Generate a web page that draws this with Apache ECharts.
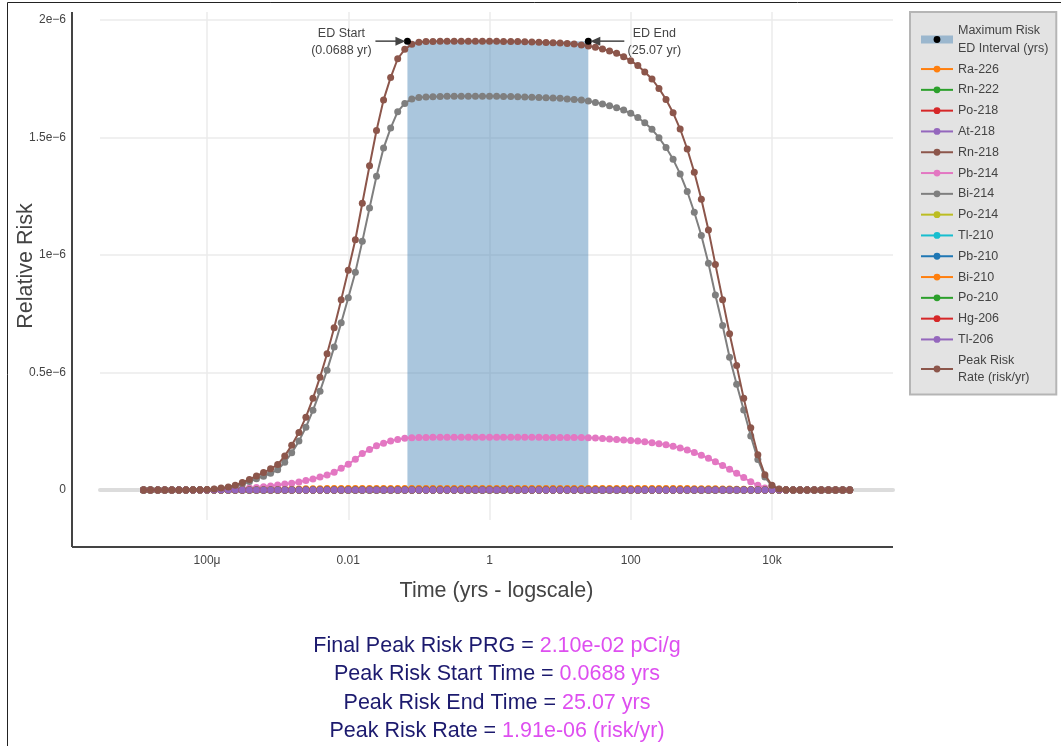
<!DOCTYPE html>
<html>
<head>
<meta charset="utf-8">
<title>Relative Risk</title>
<script src="https://cdn.jsdelivr.net/npm/echarts@6/dist/echarts.min.js"></script>
<style>
  html, body { margin: 0; padding: 0; background: #fff; }
  #chart { width: 1061px; height: 746px; }
</style>
</head>
<body>
<div id="chart"></div>
<script>
// time grid (years), 10 points per decade
const timeYrs = [
  1.26e-5, 1.58e-5, 2.00e-5, 2.51e-5, 3.16e-5, 3.98e-5, 5.01e-5, 6.31e-5, 7.94e-5, 1.00e-4,
  1.26e-4, 1.58e-4, 2.00e-4, 2.51e-4, 3.16e-4, 3.98e-4, 5.01e-4, 6.31e-4, 7.94e-4, 1.00e-3,
  1.26e-3, 1.58e-3, 2.00e-3, 2.51e-3, 3.16e-3, 3.98e-3, 5.01e-3, 6.31e-3, 7.94e-3, 1.00e-2,
  1.26e-2, 1.58e-2, 2.00e-2, 2.51e-2, 3.16e-2, 3.98e-2, 5.01e-2, 6.31e-2, 7.94e-2, 1.00e-1,
  1.26e-1, 1.58e-1, 2.00e-1, 2.51e-1, 3.16e-1, 3.98e-1, 5.01e-1, 6.31e-1, 7.94e-1, 1.00,
  1.26, 1.58, 2.00, 2.51, 3.16, 3.98, 5.01, 6.31, 7.94, 10.0,
  12.6, 15.8, 20.0, 25.1, 31.6, 39.8, 50.1, 63.1, 79.4, 100,
  126, 158, 200, 251, 316, 398, 501, 631, 794, 1000,
  1260, 1580, 2000, 2510, 3160, 3980, 5010, 6310, 7940, 10000,
  12600, 15800, 20000, 25100, 31600, 39800, 50100, 63100, 79400, 100000,
  126000
];

// risk values in units of 1e-6
const peakRisk = [
  0, 0, 0, 0, 0, 0, 0, 0.001, 0.001, 0.002,
  0.004, 0.008, 0.013, 0.02, 0.032, 0.045, 0.06, 0.074, 0.09, 0.108,
  0.145, 0.19, 0.245, 0.31, 0.39, 0.48, 0.58, 0.69, 0.81, 0.935,
  1.065, 1.22, 1.38, 1.53, 1.66, 1.755, 1.835, 1.875, 1.897, 1.905,
  1.908, 1.909, 1.91, 1.91, 1.91, 1.91, 1.91, 1.91, 1.91, 1.91,
  1.91, 1.909, 1.909, 1.908, 1.907, 1.906, 1.905, 1.904, 1.903, 1.902,
  1.9, 1.898, 1.894, 1.889, 1.884, 1.877, 1.868, 1.858, 1.844, 1.827,
  1.806, 1.779, 1.749, 1.709, 1.662, 1.605, 1.536, 1.451, 1.352, 1.237,
  1.106, 0.96, 0.81, 0.665, 0.53, 0.39, 0.265, 0.15, 0.065, 0.02,
  0.004, 0.001, 0, 0, 0, 0, 0, 0, 0, 0,
  0
];

const bi214Risk = [
  0, 0, 0, 0, 0, 0, 0, 0.001, 0.001, 0.001,
  0.003, 0.006, 0.01, 0.016, 0.025, 0.036, 0.048, 0.058, 0.071, 0.086,
  0.118, 0.158, 0.208, 0.267, 0.339, 0.42, 0.51, 0.608, 0.712, 0.818,
  0.927, 1.058, 1.2, 1.335, 1.455, 1.54, 1.61, 1.645, 1.664, 1.67,
  1.672, 1.673, 1.674, 1.675, 1.675, 1.675, 1.675, 1.675, 1.675, 1.675,
  1.675, 1.674, 1.674, 1.673, 1.672, 1.671, 1.67, 1.669, 1.668, 1.667,
  1.664, 1.662, 1.66, 1.655, 1.649, 1.643, 1.635, 1.627, 1.617, 1.603,
  1.585, 1.563, 1.535, 1.499, 1.457, 1.407, 1.345, 1.27, 1.182, 1.083,
  0.965, 0.83, 0.7, 0.565, 0.45, 0.34, 0.23, 0.13, 0.055, 0.016,
  0.003, 0.001, 0, 0, 0, 0, 0, 0, 0, 0,
  0
];

const pb214Risk = [
  0, 0, 0, 0, 0, 0, 0, 0, 0, 0,
  0.001, 0.002, 0.003, 0.004, 0.006, 0.008, 0.011, 0.014, 0.017, 0.021,
  0.025, 0.029, 0.034, 0.04, 0.047, 0.055, 0.064, 0.076, 0.092, 0.11,
  0.131, 0.155, 0.172, 0.188, 0.199, 0.208, 0.215, 0.22, 0.222, 0.223,
  0.223, 0.224, 0.224, 0.224, 0.224, 0.224, 0.224, 0.224, 0.224, 0.224,
  0.224, 0.224, 0.224, 0.224, 0.224, 0.224, 0.224, 0.223, 0.223, 0.223,
  0.223, 0.223, 0.223, 0.222, 0.221, 0.219, 0.217, 0.215, 0.213, 0.211,
  0.208, 0.205, 0.201, 0.197, 0.192, 0.186, 0.179, 0.17, 0.16, 0.148,
  0.135, 0.12, 0.104, 0.088, 0.071, 0.053, 0.035, 0.02, 0.009, 0.003,
  0.001, 0, 0, 0, 0, 0, 0, 0, 0, 0,
  0
];

const ra226Risk = [
  0, 0, 0, 0, 0, 0, 0, 0, 0, 0,
  0, 0, 0, 0, 0.001, 0.001, 0.001, 0.002, 0.002, 0.003,
  0.003, 0.004, 0.004, 0.005, 0.005, 0.005, 0.006, 0.006, 0.006, 0.006,
  0.006, 0.006, 0.006, 0.006, 0.006, 0.006, 0.006, 0.006, 0.006, 0.006,
  0.006, 0.006, 0.006, 0.006, 0.006, 0.006, 0.006, 0.006, 0.006, 0.006,
  0.006, 0.006, 0.006, 0.006, 0.006, 0.006, 0.006, 0.006, 0.006, 0.006,
  0.006, 0.006, 0.006, 0.006, 0.006, 0.006, 0.006, 0.006, 0.006, 0.006,
  0.006, 0.006, 0.006, 0.006, 0.006, 0.006, 0.006, 0.006, 0.005, 0.005,
  0.005, 0.005, 0.004, 0.004, 0.003, 0.003, 0.002, 0.002, 0.001, 0.001,
  0, 0, 0, 0, 0, 0, 0, 0, 0, 0,
  0
];

// nuclides whose contribution stays at zero on this scale
const traceRisk = [
  0, 0, 0, 0, 0, 0, 0, 0, 0, 0,
  0, 0, 0, 0, 0, 0, 0, 0, 0, 0,
  0, 0, 0, 0, 0, 0, 0, 0, 0, 0,
  0, 0, 0, 0, 0, 0, 0, 0, 0, 0,
  0, 0, 0, 0, 0, 0, 0, 0, 0, 0,
  0, 0, 0, 0, 0, 0, 0, 0, 0, 0,
  0, 0, 0, 0, 0, 0, 0, 0, 0, 0,
  0, 0, 0, 0, 0, 0, 0, 0, 0, 0,
  0, 0, 0, 0, 0, 0, 0, 0, 0, 0,
  0, 0, 0, 0, 0, 0, 0, 0, 0, 0,
  0
];

const nuclides = ['Ra-226', 'Rn-222', 'Po-218', 'At-218', 'Rn-218', 'Pb-214', 'Bi-214',
  'Po-214', 'Tl-210', 'Pb-210', 'Bi-210', 'Po-210', 'Hg-206', 'Tl-206'];
const nuclideRisk = [ra226Risk, traceRisk, traceRisk, traceRisk, traceRisk, pb214Risk, bi214Risk,
  traceRisk, traceRisk, traceRisk, traceRisk, traceRisk, traceRisk, traceRisk];
const nuclideColors = ['#ff7f0e', '#2ca02c', '#d62728', '#9467bd', '#8c564b', '#e377c2', '#7f7f7f',
  '#bcbd22', '#17becf', '#1f77b4', '#ff7f0e', '#2ca02c', '#d62728', '#9467bd'];

const edStart = 0.0688
const edEnd = 25.07
const peakRate = 1.91

const xTickTimes = [1e-4, 0.01, 1, 100, 1e4]
const xTickLabels = ['100μ', '0.01', '1', '100', '10k']
const yTickValues = [0, 0.5, 1, 1.5, 2]
const yTickLabels = ['0', '0.5e−6', '1e−6', '1.5e−6', '2e−6']

const summaryLines = [
  ['Final Peak Risk PRG = ', '2.10e-02 pCi/g'],
  ['Peak Risk Start Time = ', '0.0688 yrs'],
  ['Peak Risk End Time = ', '25.07 yrs'],
  ['Peak Risk Rate = ', '1.91e-06 (risk/yr)']
]

const INTERVAL_NAME = 'Maximum Risk\nED Interval (yrs)'
const PEAK_NAME = 'Peak Risk\nRate (risk/yr)'
const FONT = '"Liberation Sans", Arial, sans-serif'
const TEXT_COLOR = '#444'
const X_MIN = -5.516, X_MAX = 5.714
const Y_MIN = -0.1277, Y_MAX = 2.034
// axis lines sit a little outside the plotting area
const Y_AXIS_SHIFT = 28
const X_AXIS_SHIFT = 27

const chart = echarts.init(document.getElementById('chart'), null, { renderer: 'canvas' })

function toPoints(values) {
  return timeYrs.map((t, i) => [Math.log10(t), values[i]])
}

const xTickLogs = xTickTimes.map(t => Math.log10(t))

const lineSeries = nuclides.map((name, i) => ({
  name,
  type: 'line',
  data: toPoints(nuclideRisk[i]),
  symbol: 'circle',
  symbolSize: 7,
  color: nuclideColors[i],
  lineStyle: { width: 2 },
  z: 2
}))

const option = {
  animation: false,
  textStyle: { fontFamily: FONT },
  grid: { left: 100, right: 168, top: 12, bottom: 226, outerBoundsMode: 'none', containLabel: false },
  legend: {
    orient: 'vertical',
    left: 910,
    top: 12,
    padding: [10, 8, 8, 7],
    backgroundColor: '#e3e3e3',
    borderColor: '#b5b5b5',
    borderWidth: 2,
    itemWidth: 32,
    itemHeight: 8.5,
    itemGap: 3.3,
    textStyle: { fontSize: 12.5, lineHeight: 17.5, color: TEXT_COLOR, fontFamily: FONT },
    data: [
      {
        name: INTERVAL_NAME,
        lineStyle: { color: 'rgba(70,130,180,0.46)', width: 8, opacity: 1 },
        itemStyle: { color: '#000' }
      },
      ...nuclides,
      PEAK_NAME
    ]
  },
  xAxis: [
    {
      type: 'value',
      min: X_MIN,
      max: X_MAX,
      offset: X_AXIS_SHIFT,
      name: 'Time (yrs - logscale)',
      nameLocation: 'middle',
      nameGap: 33,
      nameMoveOverlap: false,
      nameTextStyle: { fontSize: 21.5, color: TEXT_COLOR, padding: [0, 0, 0, 0] },
      axisLine: { show: false, onZero: false },
      axisTick: { show: false, customValues: xTickLogs },
      axisLabel: {
        customValues: xTickLogs,
        margin: 8,
        fontSize: 12,
        color: TEXT_COLOR,
        formatter: v => {
          const i = xTickLogs.findIndex(t => Math.abs(t - v) < 1e-9)
          return i < 0 ? '' : xTickLabels[i]
        }
      },
      splitLine: { show: true, lineStyle: { color: '#ebebeb', width: 1.5 } }
    },
    {
      // zero line
      type: 'value',
      min: X_MIN,
      max: X_MAX,
      axisLine: { onZero: true, lineStyle: { color: '#dcdcdc', width: 4 } },
      axisTick: { show: false },
      axisLabel: { show: false },
      splitLine: { show: false }
    }
  ],
  yAxis: {
    type: 'value',
    min: Y_MIN,
    max: Y_MAX,
    offset: Y_AXIS_SHIFT,
    name: 'Relative Risk',
    nameLocation: 'middle',
    nameGap: 35,
    nameRotate: 90,
    nameMoveOverlap: false,
    nameTextStyle: { fontSize: 21.5, color: TEXT_COLOR, padding: [0, 0, 0, 0] },
    axisLine: { show: false, onZero: false },
    axisTick: { show: false, customValues: yTickValues },
    axisLabel: {
      customValues: yTickValues,
      margin: 6,
      fontSize: 12,
      color: TEXT_COLOR,
      formatter: v => {
        const i = yTickValues.findIndex(t => Math.abs(t - v) < 1e-9)
        return i < 0 ? '' : yTickLabels[i]
      }
    },
    splitLine: { show: true, lineStyle: { color: '#ebebeb', width: 1.5 } }
  },
  series: [
    {
      name: INTERVAL_NAME,
      type: 'line',
      data: [[Math.log10(edStart), peakRate], [Math.log10(edEnd), peakRate]],
      symbol: 'circle',
      symbolSize: 7,
      itemStyle: { color: '#000' },
      lineStyle: { opacity: 0 },
      z: 4,
      markArea: {
        silent: true,
        itemStyle: { color: 'rgba(70,130,180,0.46)' },
        data: [[
          { xAxis: Math.log10(edStart), yAxis: 0 },
          { xAxis: Math.log10(edEnd), yAxis: peakRate }
        ]]
      }
    },
    ...lineSeries,
    {
      name: PEAK_NAME,
      type: 'line',
      data: toPoints(peakRisk),
      symbol: 'circle',
      symbolSize: 7,
      color: '#8c564b',
      lineStyle: { width: 2 },
      z: 3
    }
  ]
}

chart.setOption(option)

// axis lines, annotations, summary text and page frame
function drawOverlay() {
  const [left, bottom] = chart.convertToPixel({ seriesIndex: 0 }, [X_MIN, Y_MIN])
  const [right, top] = chart.convertToPixel({ seriesIndex: 0 }, [X_MAX, Y_MAX])
  const axisX = Math.round(left - Y_AXIS_SHIFT)
  const axisY = Math.round(bottom + X_AXIS_SHIFT)
  const axisStyle = { stroke: '#444', lineWidth: 2 }

  const [sx, sy] = chart.convertToPixel({ seriesIndex: 0 }, [Math.log10(edStart), peakRate])
  const [ex, ey] = chart.convertToPixel({ seriesIndex: 0 }, [Math.log10(edEnd), peakRate])
  const arrowStyle = { stroke: '#444', lineWidth: 1.5 }
  const noteStyle = { fill: TEXT_COLOR, fontSize: 12.5, lineHeight: 16.5, fontFamily: FONT, align: 'center', verticalAlign: 'middle' }

  const graphics = [
    { type: 'line', z: 50, shape: { x1: axisX, y1: top, x2: axisX, y2: axisY }, style: axisStyle },
    { type: 'line', z: 50, shape: { x1: axisX, y1: axisY, x2: right, y2: axisY }, style: axisStyle },
    { type: 'line', z: 100, shape: { x1: sx - 32, y1: sy, x2: sx - 9, y2: sy }, style: arrowStyle },
    { type: 'polygon', z: 100, shape: { points: [[sx - 2, sy], [sx - 12, sy - 4.5], [sx - 12, sy + 4.5]] }, style: { fill: '#444' } },
    { type: 'text', z: 100, x: sx - 66, y: sy + 1, style: Object.assign({ text: 'ED Start\n(' + edStart + ' yr)' }, noteStyle) },
    { type: 'line', z: 100, shape: { x1: ex + 36, y1: ey, x2: ex + 9, y2: ey }, style: arrowStyle },
    { type: 'polygon', z: 100, shape: { points: [[ex + 2, ey], [ex + 12, ey - 4.5], [ex + 12, ey + 4.5]] }, style: { fill: '#444' } },
    { type: 'text', z: 100, x: ex + 66, y: ey + 1, style: Object.assign({ text: 'ED End\n(' + edEnd + ' yr)' }, noteStyle) },
    { type: 'line', z: 100, shape: { x1: 7.5, y1: 2.5, x2: 7.5, y2: 746 }, style: { stroke: '#222', lineWidth: 1 } },
    { type: 'line', z: 100, shape: { x1: 7.5, y1: 2.5, x2: 1061, y2: 2.5 }, style: { stroke: '#222', lineWidth: 1 } }
  ]

  summaryLines.forEach((line, i) => {
    graphics.push({
      type: 'text',
      z: 100,
      x: 497,
      y: 646 + i * 28.4,
      style: {
        text: '{a|' + line[0] + '}{b|' + line[1] + '}',
        align: 'center',
        verticalAlign: 'middle',
        rich: {
          a: { fontSize: 21.5, fontFamily: FONT, fill: '#1c1a6e' },
          b: { fontSize: 21.5, fontFamily: FONT, fill: '#de4ff0' }
        }
      }
    })
  })

  chart.setOption({ graphic: graphics })
}

drawOverlay()
</script>
</body>
</html>
